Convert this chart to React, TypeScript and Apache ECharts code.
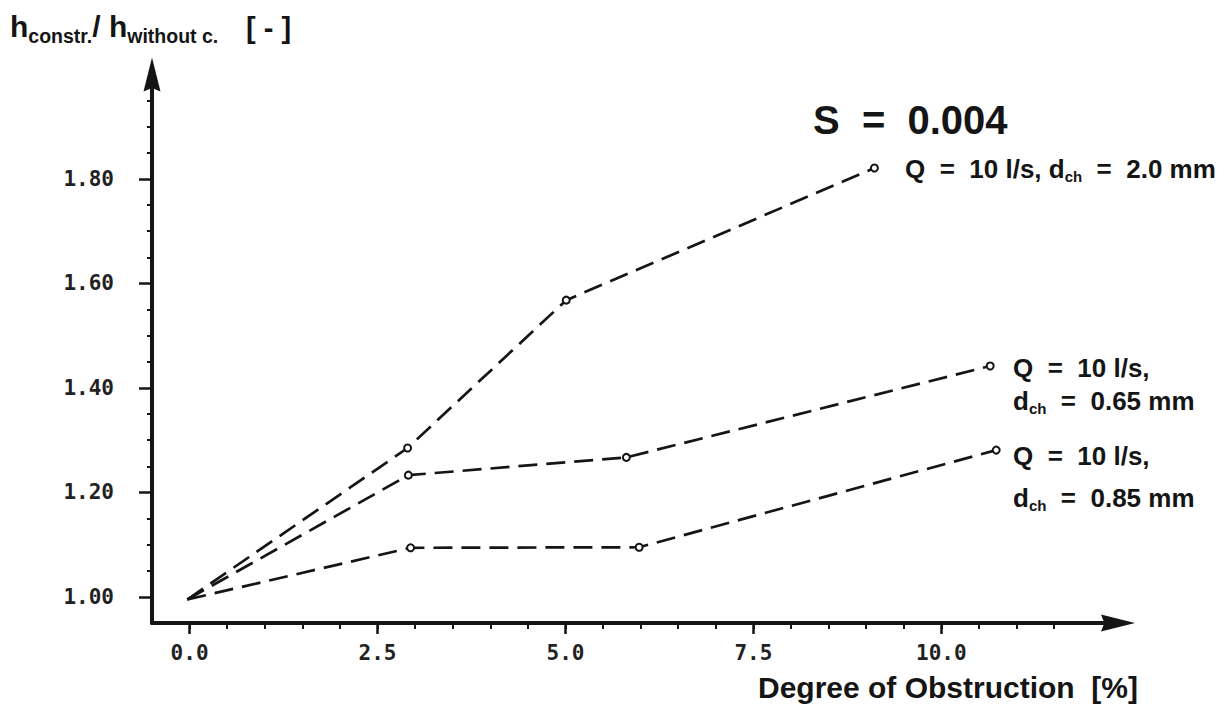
import React, { useEffect, useRef } from "react";
import * as echarts from "echarts";

// Degree of obstruction [%] and h_constr./h_without c. for each curve (S = 0.004)
const obstruction20 = [-0.03, 2.9, 5.01, 9.11];
const ratio20 = [0.995, 1.285, 1.568, 1.821];
const obstruction065 = [-0.03, 2.91, 5.81, 10.65];
const ratio065 = [0.995, 1.233, 1.267, 1.442];
const obstruction085 = [-0.03, 2.94, 5.98, 10.73];
const ratio085 = [0.995, 1.094, 1.095, 1.281];

const xMajorTicks = [0, 2.5, 5, 7.5, 10];
const xTickLabels = ["0.0", "2.5", "5.0", "7.5", "10.0"];
const xMinorTicks = [0, 0.5, 1, 1.5, 2, 2.5, 3, 3.5, 4, 4.5, 5, 5.5, 6, 6.5, 7, 7.5, 8, 8.5, 9, 9.5, 10, 10.5, 11, 11.5];
const yMajorTicks = [1.0, 1.2, 1.4, 1.6, 1.8];
const yTickLabels = ["1.00", "1.20", "1.40", "1.60", "1.80"];
const yMinorTicks = [1.05, 1.1, 1.15, 1.25, 1.3, 1.35, 1.45, 1.5, 1.55, 1.65, 1.7, 1.75, 1.85, 1.9, 1.95];

const INK = "#151515";
const SANS = "'Liberation Sans', Arial, sans-serif";
const MONO = "'DejaVu Sans Mono', monospace";
const ARROW = "path://M10,0 L20,40 L10,36 L0,40 Z";

function buildSeries(xs: number[], ys: number[], name: string) {
  return {
    type: "line",
    name,
    xAxisIndex: 0,
    yAxisIndex: 0,
    data: xs.map((x, i) => ({ value: [x, ys[i]], symbol: i === 0 ? "none" : "circle" })),
    symbolSize: 7,
    showSymbol: true,
    itemStyle: { color: "#fff", borderColor: INK, borderWidth: 2 },
    lineStyle: { color: INK, width: 2.7, type: [19, 9] },
    silent: true,
    z: 3,
  };
}

function subText(parts: [string, boolean][], x: number, y: number, fs: number, sfs: number, pad: number) {
  return {
    type: "text",
    x,
    y,
    style: {
      text: parts.map(([t, s]) => (s ? `{s|${t}}` : `{n|${t}}`)).join(""),
      verticalAlign: "middle",
      align: "left",
      fill: INK,
      rich: {
        n: { fontSize: fs, fontWeight: "bold", fontFamily: SANS, lineHeight: fs, fill: INK },
        s: { fontSize: sfs, fontWeight: "bold", fontFamily: SANS, lineHeight: sfs, padding: [pad, 0, 0, 0], fill: INK },
      },
    },
    z: 10,
  };
}

export default function App() {
  const ref = useRef<HTMLDivElement>(null);
  useEffect(() => {
    if (!ref.current) return;
    const chart = echarts.init(ref.current, undefined, { renderer: "svg" });
    const xBase = {
      type: "value",
      min: -0.5,
      max: 12.35,
      position: "bottom",
      splitLine: { show: false },
    };
    const yBase = {
      type: "value",
      min: 0.95,
      max: 2.0,
      position: "left",
      splitLine: { show: false },
    };
    chart.setOption({
      animation: false,
      backgroundColor: "#fff",
      grid: { left: 152, top: 74.5, right: 114, bottom: 82, containLabel: false },
      xAxis: [
        {
          ...xBase,
          axisLine: {
            show: true,
            onZero: false,
            symbol: ["none", ARROW],
            symbolSize: [17, 46],
            lineStyle: { color: INK, width: 4 },
          },
          axisTick: { show: true, customValues: xMinorTicks, length: 6, lineStyle: { color: INK, width: 2 } },
          axisLabel: {
            show: true,
            customValues: xMajorTicks,
            formatter: (v: number) => xTickLabels[xMajorTicks.indexOf(v)] ?? "",
            margin: 19,
            fontFamily: MONO,
            fontWeight: "bold",
            fontSize: 21,
            color: "#222",
          },
        },
        {
          ...xBase,
          axisLine: { show: false, onZero: false },
          axisTick: { show: true, customValues: xMajorTicks, length: 11, lineStyle: { color: INK, width: 2.5 } },
          axisLabel: { show: false },
        },
      ],
      yAxis: [
        {
          ...yBase,
          axisLine: {
            show: true,
            onZero: false,
            symbol: ["none", ARROW],
            symbolSize: [17, 54],
            lineStyle: { color: INK, width: 4 },
          },
          axisTick: { show: true, customValues: yMinorTicks, length: 5, lineStyle: { color: INK, width: 2 } },
          axisLabel: {
            show: true,
            customValues: yMajorTicks,
            formatter: (v: number) => yTickLabels[yMajorTicks.indexOf(v)] ?? "",
            margin: 38,
            fontFamily: MONO,
            fontWeight: "bold",
            fontSize: 21,
            color: "#222",
          },
        },
        {
          ...yBase,
          axisLine: { show: false, onZero: false },
          axisTick: { show: true, customValues: yMajorTicks, length: 13, lineStyle: { color: INK, width: 2.5 } },
          axisLabel: { show: false },
        },
      ],
      series: [
        buildSeries(obstruction20, ratio20, "Q = 10 l/s, dch = 2.0 mm"),
        buildSeries(obstruction065, ratio065, "Q = 10 l/s, dch = 0.65 mm"),
        buildSeries(obstruction085, ratio085, "Q = 10 l/s, dch = 0.85 mm"),
      ],
      graphic: [
        subText([["h", false], ["constr.", true], ["/ h", false], ["without c.", true]], 10, 26.5, 30, 19.5, 18),
        {
          type: "text",
          x: 246,
          y: 28,
          style: { text: "[ - ]", font: `bold 29px ${SANS}`, fill: INK, verticalAlign: "middle" },
        },
        {
          type: "text",
          x: 813,
          y: 120,
          style: { text: "S  =  0.004", font: `bold 40px ${SANS}`, fill: INK, verticalAlign: "middle" },
        },
        subText([["Q  =  10 l/s, d", false], ["ch", true], ["  =  2.0 mm", false]], 905, 169, 26, 15, 15),
        subText([["Q  =  10 l/s,", false]], 1013, 368, 26, 15, 15),
        subText([["d", false], ["ch", true], ["  =  0.65 mm", false]], 1013, 401, 26, 15, 15),
        subText([["Q  =  10 l/s,", false]], 1013, 456, 26, 15, 15),
        subText([["d", false], ["ch", true], ["  =  0.85 mm", false]], 1013, 498, 26, 15, 15),
        {
          type: "text",
          x: 1138,
          y: 687,
          style: {
            text: "Degree of Obstruction  [%]",
            font: `bold 30px ${SANS}`,
            fill: INK,
            align: "right",
            verticalAlign: "middle",
          },
        },
      ],
    });
    return () => chart.dispose();
  }, []);
  return (
    <div
      ref={ref}
      style={{ position: "absolute", left: 0, top: 0, width: 1232, height: 705, background: "#fff" }}
    />
  );
}
